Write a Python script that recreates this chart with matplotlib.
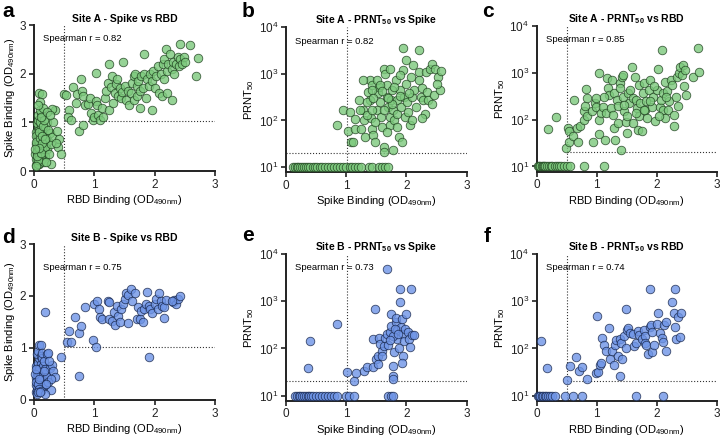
import numpy as np
import matplotlib
matplotlib.use("Agg")
import matplotlib.pyplot as plt
from matplotlib.ticker import FixedLocator, NullLocator

plt.rcParams['font.family'] = ['Liberation Sans', 'DejaVu Sans']
plt.rcParams['mathtext.fontset'] = 'custom'
plt.rcParams['mathtext.rm'] = 'Liberation Sans'
plt.rcParams['mathtext.it'] = 'Liberation Sans:italic'
plt.rcParams['mathtext.bf'] = 'Liberation Sans:bold'
plt.rcParams['mathtext.default'] = 'regular'

# ---- data (x, y) ----
# Site A: spike OD vs RBD OD
site_a_rbd_spike = np.array([
    (0.03, 0.12), (0.05, 0.18), (0.04, 0.25), (0.06, 0.30), (0.08, 0.15), (0.02, 0.35), (0.07, 0.42),
    (0.10, 0.20), (0.05, 0.50), (0.09, 0.28), (0.12, 0.38), (0.04, 0.55), (0.06, 0.62), (0.11, 0.45),
    (0.08, 0.70), (0.03, 0.80), (0.13, 0.25), (0.15, 0.32), (0.07, 0.90), (0.10, 0.58), (0.05, 0.98),
    (0.09, 0.75), (0.14, 0.48), (0.06, 1.05), (0.12, 0.66), (0.08, 0.85), (0.16, 0.40), (0.04, 0.72),
    (0.11, 0.95), (0.18, 0.30), (0.07, 1.15), (0.13, 0.82), (0.20, 0.52), (0.10, 1.00), (0.05, 0.40),
    (0.15, 0.60), (0.09, 0.33), (0.17, 0.75), (0.12, 0.22), (0.22, 0.45), (0.06, 0.15), (0.14, 1.10),
    (0.08, 0.55), (0.19, 0.88), (0.11, 0.30), (0.24, 0.62), (0.03, 0.60), (0.16, 0.18), (0.10, 0.68),
    (0.13, 0.45), (0.21, 1.00), (0.07, 0.22), (0.18, 0.50), (0.26, 0.78), (0.12, 1.20), (0.09, 0.80),
    (0.15, 0.92), (0.28, 0.55), (0.05, 0.30), (0.20, 0.68), (0.11, 0.38), (0.23, 0.85), (0.14, 0.58),
    (0.30, 0.70), (0.08, 0.48), (0.17, 1.05), (0.25, 0.35), (0.10, 1.25), (0.32, 1.00), (0.13, 0.72),
    (0.35, 1.25), (0.38, 0.82), (0.30, 1.28), (0.42, 0.65), (0.40, 0.50), (0.36, 0.58), (0.28, 0.15),
    (0.44, 0.35), (0.08, 1.60), (0.13, 1.58), (0.10, 1.42), (0.15, 1.30), (0.06, 1.35), (0.12, 1.10),
    (0.20, 0.18), (0.22, 1.22), (0.04, 0.10), (0.02, 0.45), (0.18, 0.65), (0.27, 1.15),
    (0.50, 1.58), (0.53, 1.57), (0.58, 1.26), (0.57, 1.10), (0.62, 1.05), (0.65, 1.72), (0.72, 1.58),
    (0.70, 1.40), (0.78, 1.90), (0.80, 1.65), (0.82, 1.55), (0.85, 1.35), (0.90, 1.38), (0.92, 1.50),
    (0.75, 0.83), (0.82, 0.95), (0.95, 1.20), (0.98, 1.05), (1.00, 1.10), (1.02, 1.43), (1.03, 2.02),
    (1.05, 1.35), (1.06, 1.15), (1.10, 1.05), (1.12, 1.30), (1.15, 1.10), (1.18, 1.50), (1.20, 1.65),
    (1.22, 1.80), (1.25, 1.25), (1.25, 2.20), (1.28, 1.72), (1.30, 1.95), (1.31, 1.40), (1.35, 1.60),
    (1.36, 1.78), (1.38, 1.90), (1.40, 1.55), (1.42, 1.70), (1.45, 1.50), (1.46, 1.62), (1.48, 2.25),
    (1.50, 1.75), (1.52, 1.45), (1.55, 1.65), (1.58, 1.35), (1.60, 1.60), (1.62, 1.80), (1.65, 1.45),
    (1.65, 1.95), (1.68, 2.00), (1.70, 1.75), (1.71, 1.55), (1.72, 1.85), (1.75, 1.30), (1.76, 1.65),
    (1.78, 1.95), (1.80, 1.70), (1.82, 2.00), (1.83, 2.40), (1.85, 1.50), (1.88, 1.90), (1.90, 1.75),
    (1.92, 2.00), (1.95, 1.25), (1.96, 1.85), (1.98, 2.05), (2.00, 1.70), (2.02, 1.95), (2.05, 2.15),
    (2.08, 1.60), (2.10, 2.00), (2.12, 1.55), (2.13, 2.20), (2.15, 2.30), (2.16, 1.90), (2.18, 2.50),
    (2.20, 2.05), (2.21, 1.60), (2.22, 2.20), (2.25, 2.40), (2.28, 1.45), (2.29, 2.10), (2.30, 2.25),
    (2.32, 2.00), (2.35, 2.20), (2.38, 2.35), (2.40, 2.15), (2.42, 2.30), (2.42, 2.60), (2.45, 2.20),
    (2.48, 2.35), (2.50, 2.25), (2.58, 2.58), (2.68, 1.95), (2.72, 2.32),
])

# Site A: PRNT50 vs spike OD
site_a_spike_prnt = np.array([
    (0.12, 10), (0.15, 10), (0.18, 10), (0.20, 10), (0.23, 10), (0.26, 10), (0.30, 10), (0.33, 10),
    (0.37, 10), (0.40, 10), (0.44, 10), (0.48, 10), (0.52, 10), (0.56, 10), (0.60, 10), (0.65, 10),
    (0.70, 10), (0.74, 10), (0.80, 10), (0.85, 10), (0.90, 10), (0.95, 10), (1.00, 10), (1.06, 10),
    (1.10, 10), (1.15, 10), (1.20, 10), (1.25, 10), (1.38, 10), (1.42, 10), (1.55, 10), (1.60, 10),
    (1.65, 10), (1.70, 10),
    (0.84, 79), (0.94, 166), (1.03, 60), (1.08, 35), (1.11, 35), (1.06, 150), (1.15, 105), (1.15, 67),
    (1.22, 275), (1.24, 67), (1.28, 165), (1.29, 100), (1.31, 44), (1.36, 415), (1.39, 740), (1.42, 570),
    (1.39, 275), (1.41, 110), (1.43, 67), (1.45, 48), (1.48, 35), (1.51, 165), (1.52, 380), (1.55, 530),
    (1.56, 250), (1.58, 120), (1.59, 72), (1.62, 27), (1.63, 21), (1.63, 1300), (1.64, 1000), (1.67, 570),
    (1.68, 320), (1.70, 195), (1.72, 120), (1.73, 79), (1.74, 275), (1.76, 450), (1.77, 23), (1.78, 165),
    (1.79, 100), (1.82, 740), (1.84, 275), (1.85, 140), (1.87, 44), (1.89, 450), (1.91, 195), (1.93, 35),
    (1.95, 3600), (1.95, 1200), (1.96, 320), (1.98, 120), (2.00, 620), (2.01, 250), (2.03, 155), (2.06, 79),
    (2.07, 870), (2.09, 320), (2.10, 100), (2.13, 450), (2.15, 195), (2.20, 3200), (2.20, 1100), (2.21, 740),
    (2.24, 320), (2.25, 490), (2.28, 275), (2.30, 140), (2.32, 1100), (2.34, 410), (2.36, 275), (2.39, 1300),
    (2.43, 1600), (2.46, 350), (2.47, 1300), (2.53, 870), (2.56, 460), (2.58, 1150), (2.50, 620), (2.42, 230),
    (2.25, 110), (1.84, 72), (1.67, 57), (1.34, 130), (1.23, 165), (1.28, 740), (1.51, 740), (1.76, 230),
    (1.56, 570), (1.42, 450), (2.00, 1950), (2.11, 1550), (1.89, 940), (1.62, 165), (1.48, 93), (1.42, 165),
    (1.70, 300), (1.80, 520), (1.90, 330), (2.05, 380), (1.60, 420), (1.35, 250), (1.45, 300), (1.72, 1250),
])

# Site A: PRNT50 vs RBD OD
site_a_rbd_prnt = np.array([
    (0.02, 10), (0.04, 10), (0.06, 10), (0.08, 10), (0.10, 10), (0.12, 10), (0.14, 10), (0.17, 10),
    (0.20, 10), (0.23, 10), (0.26, 10), (0.30, 10), (0.33, 10), (0.37, 10), (0.40, 10), (0.45, 10),
    (0.50, 10), (0.55, 10), (0.78, 10), (1.12, 10),
    (0.19, 63), (0.32, 112), (0.49, 25), (0.53, 33), (0.52, 66), (0.54, 58), (0.61, 45), (0.67, 66),
    (0.72, 74), (0.62, 264), (0.68, 34), (0.78, 100), (0.79, 150), (0.82, 445), (0.81, 195), (0.84, 117),
    (0.83, 285), (0.92, 150), (0.93, 34), (0.97, 225), (0.98, 285), (0.99, 190), (1.03, 100), (1.04, 49),
    (1.03, 980), (1.07, 137), (1.11, 185), (1.14, 37), (1.16, 137), (1.19, 470), (1.21, 335), (1.23, 175),
    (1.27, 127), (1.29, 66), (1.28, 365), (1.30, 37), (1.33, 265), (1.36, 84), (1.38, 620), (1.39, 470),
    (1.40, 22), (1.42, 830), (1.43, 920), (1.44, 310), (1.46, 150), (1.48, 91), (1.50, 117), (1.51, 51),
    (1.52, 365), (1.54, 225), (1.58, 1360), (1.60, 285), (1.61, 84), (1.64, 830), (1.66, 265), (1.67, 175),
    (1.68, 60), (1.70, 555), (1.71, 117), (1.72, 230), (1.75, 56), (1.77, 365), (1.78, 600), (1.81, 160),
    (1.82, 245), (1.84, 107), (1.87, 430), (1.89, 700), (1.92, 190), (1.93, 310), (1.97, 95), (2.00, 430),
    (2.02, 1190), (2.06, 190), (2.07, 265), (2.09, 3050), (2.10, 365), (2.11, 160), (2.14, 107), (2.14, 650),
    (2.17, 400), (2.19, 160), (2.21, 245), (2.23, 700), (2.25, 555), (2.28, 74), (2.29, 127), (2.32, 310),
    (2.33, 830), (2.37, 1000), (2.39, 1360), (2.42, 920), (2.43, 1460), (2.47, 1150), (2.49, 335), (2.61, 830),
    (2.68, 3350), (2.71, 1060), (1.17, 770), (1.25, 700), (2.03, 117), (1.78, 160), (1.55, 420), (1.35, 200),
    (1.95, 520), (2.15, 300), (1.65, 140), (1.88, 250), (2.35, 200), (2.45, 520), (1.12, 300), (1.45, 210),
])

# Site B: spike OD vs RBD OD
site_b_rbd_spike = np.array([
    (0.03, 0.15), (0.05, 0.20), (0.04, 0.28), (0.06, 0.35), (0.08, 0.18), (0.03, 0.42), (0.07, 0.50),
    (0.10, 0.25), (0.05, 0.58), (0.09, 0.32), (0.12, 0.40), (0.04, 0.65), (0.06, 0.72), (0.11, 0.55),
    (0.08, 0.80), (0.05, 0.88), (0.13, 0.22), (0.15, 0.30), (0.07, 0.95), (0.10, 0.62), (0.09, 1.05),
    (0.12, 1.05), (0.14, 0.48), (0.06, 0.45), (0.12, 0.70), (0.08, 0.60), (0.16, 0.38), (0.04, 0.35),
    (0.11, 0.85), (0.18, 0.28), (0.07, 0.30), (0.13, 0.80), (0.20, 0.52), (0.10, 0.45), (0.05, 0.12),
    (0.15, 0.65), (0.09, 0.22), (0.17, 0.75), (0.12, 0.18), (0.22, 0.45), (0.06, 0.15), (0.14, 0.90),
    (0.19, 0.60), (0.21, 0.88), (0.23, 0.90), (0.24, 0.35), (0.26, 0.62), (0.28, 0.20), (0.30, 0.68),
    (0.32, 0.55), (0.34, 0.45), (0.29, 0.40), (0.25, 0.75), (0.18, 0.12), (0.10, 0.15), (0.16, 0.55),
    (0.20, 0.30), (0.02, 0.50), (0.03, 0.60), (0.08, 0.40), (0.18, 1.70),
    (0.45, 0.82), (0.75, 0.47), (0.55, 1.12), (0.58, 1.32), (0.62, 1.12), (0.68, 1.60), (0.75, 1.28),
    (0.78, 1.42), (0.85, 1.78), (0.98, 1.15), (1.02, 1.02), (1.00, 1.85), (1.05, 1.90), (1.08, 1.75),
    (1.10, 1.60), (1.12, 1.55), (1.22, 1.90), (1.25, 1.55), (1.30, 1.52), (1.32, 1.70), (1.35, 1.45),
    (1.38, 1.80), (1.40, 1.62), (1.42, 1.50), (1.45, 1.75), (1.48, 1.85), (1.50, 1.95), (1.52, 2.05),
    (1.55, 2.02), (1.55, 1.48), (1.60, 2.13), (1.62, 1.90), (1.68, 2.05), (1.70, 1.55), (1.72, 1.78),
    (1.75, 1.55), (1.78, 1.72), (1.80, 1.50), (1.82, 1.75), (1.85, 1.85), (1.88, 2.08), (1.90, 0.82),
    (1.90, 1.80), (1.92, 1.75), (1.95, 1.68), (2.00, 1.85), (2.02, 1.95), (2.05, 1.75), (2.08, 2.05),
    (2.10, 1.90), (2.12, 1.80), (2.15, 1.58), (2.15, 1.78), (2.18, 1.92), (2.30, 1.88), (2.32, 1.92),
    (2.35, 1.85), (2.38, 1.95), (2.42, 2.00), (2.28, 1.90), (1.25, 1.88),
])

# Site B: PRNT50 vs spike OD
site_b_spike_prnt = np.array([
    (0.15, 10), (0.18, 10), (0.21, 10), (0.24, 10), (0.27, 10), (0.30, 10), (0.33, 10), (0.36, 10),
    (0.38, 10), (0.42, 10), (0.45, 10), (0.50, 10), (0.55, 10), (0.60, 10), (0.65, 10), (0.70, 10),
    (0.75, 10), (0.80, 10), (0.85, 10), (1.00, 10), (1.04, 10), (1.13, 10), (1.70, 10), (1.75, 10),
    (1.78, 10),
    (0.40, 146), (0.36, 38), (0.84, 323), (1.02, 31), (1.13, 20), (1.16, 30), (1.29, 34), (1.34, 41),
    (1.44, 41), (1.48, 680), (1.45, 155), (1.49, 60), (1.52, 70), (1.53, 47), (1.55, 165), (1.56, 125),
    (1.59, 90), (1.60, 68), (1.63, 115), (1.65, 170), (1.67, 200), (1.68, 4800), (1.70, 120), (1.72, 220),
    (1.74, 535), (1.75, 300), (1.77, 43), (1.78, 26), (1.78, 23), (1.80, 82), (1.82, 355), (1.83, 450),
    (1.84, 240), (1.85, 160), (1.87, 104), (1.89, 1770), (1.90, 940), (1.91, 280), (1.93, 420), (1.94, 200),
    (1.95, 70), (1.92, 49), (1.96, 145), (1.98, 255), (2.00, 535), (2.02, 220), (2.04, 160), (2.06, 105),
    (2.08, 1770), (2.09, 190), (2.13, 195), (1.77, 185), (1.81, 255), (1.86, 200), (1.73, 150),
])

# Site B: PRNT50 vs RBD OD
site_b_rbd_prnt = np.array([
    (0.02, 10), (0.04, 10), (0.06, 10), (0.08, 10), (0.10, 10), (0.13, 10), (0.16, 10), (0.19, 10),
    (0.22, 10), (0.26, 10), (0.30, 10), (0.47, 10), (0.60, 10), (0.75, 10), (1.65, 10), (2.10, 10),
    (0.07, 145), (0.17, 38), (0.50, 21), (0.55, 42), (0.65, 65), (0.70, 33), (0.75, 40), (0.83, 23),
    (0.98, 30), (1.00, 480), (1.02, 32), (1.05, 45), (1.07, 48), (1.08, 165), (1.12, 120), (1.15, 90),
    (1.20, 270), (1.22, 60), (1.25, 90), (1.28, 45), (1.30, 120), (1.32, 150), (1.35, 70), (1.38, 26),
    (1.38, 160), (1.40, 130), (1.42, 60), (1.45, 180), (1.48, 700), (1.48, 100), (1.50, 240), (1.52, 270),
    (1.55, 210), (1.60, 200), (1.62, 110), (1.65, 130), (1.68, 230), (1.70, 190), (1.75, 160), (1.78, 240),
    (1.80, 180), (1.80, 130), (1.82, 120), (1.85, 75), (1.88, 1800), (1.88, 280), (1.90, 320), (1.92, 85),
    (1.92, 220), (1.95, 120), (2.00, 330), (2.02, 550), (2.05, 210), (2.08, 170), (2.10, 140), (2.12, 310),
    (2.15, 90), (2.15, 370), (2.25, 950), (2.28, 560), (2.30, 1800), (2.30, 280), (2.32, 160), (2.35, 470),
    (2.38, 175), (2.40, 570),
])

titles = ['Site A - Spike vs RBD', 'Site A - PRNT$_{50}$ vs Spike', 'Site A - PRNT$_{50}$ vs RBD',
          'Site B - Spike vs RBD', 'Site B - PRNT$_{50}$ vs Spike', 'Site B - PRNT$_{50}$ vs RBD']
spearman = [0.82, 0.82, 0.85, 0.75, 0.73, 0.74]
letters = ['a', 'b', 'c', 'd', 'e', 'f']
rbd_label = 'RBD Binding (OD$_{490nm}$)'
spike_label = 'Spike Binding (OD$_{490nm}$)'
spike_ylabel = 'Spike Binding (OD$_{490nm}$)'
prnt_label = 'PRNT$_{50}$'
spike_cut, rbd_cut, prnt_cut = 1.02, 0.5, 20

green_face, green_edge = '#7cc97c', '#1e3f1e'
blue_face, blue_edge = '#6e94e6', '#16254a'

W, H = 720, 438
fig = plt.figure(figsize=(7.2, 4.38), dpi=100)


def px_axes(l, r, t, b):
    return fig.add_axes([l / W, 1 - b / H, (r - l) / W, (b - t) / H])


axes = [
    px_axes(34, 215, 25, 171),
    px_axes(286, 466.7, 27.3, 172),
    px_axes(536.7, 716.7, 26, 171.5),
    px_axes(34, 215, 244, 400),
    px_axes(286, 466.7, 254, 400.7),
    px_axes(536.7, 716.7, 254, 400.7),
]
datasets = [site_a_rbd_spike, site_a_spike_prnt, site_a_rbd_prnt,
            site_b_rbd_spike, site_b_spike_prnt, site_b_rbd_prnt]
kinds = ['od', 'prnt_spike', 'prnt_rbd', 'od', 'prnt_spike', 'prnt_rbd']
text_y = [0.91, 0.90, 0.905, 0.85, 0.905, 0.905]
letter_pos = [(2, 2), (242, 2), (482, 2), (2, 228), (242, 226), (484, 227)]

for i, ax in enumerate(axes):
    data = datasets[i]
    face, edge = (green_face, green_edge) if i < 3 else (blue_face, blue_edge)
    kind = kinds[i]
    ax.set_xlim(0, 3)
    if kind == 'od':
        ax.set_ylim(0, 3)
        ax.set_yticks([0, 1, 2, 3])
        ax.plot([rbd_cut, rbd_cut], [0, 3], ls=':', lw=0.8, color='#333333', zorder=1)
        ax.plot([rbd_cut, 3], [spike_cut, spike_cut], ls=':', lw=0.8, color='#333333', zorder=1)
        ax.set_xlabel(rbd_label, fontsize=8, labelpad=2)
        ax.set_ylabel(spike_ylabel, fontsize=8, labelpad=2)
    else:
        ax.set_yscale('log')
        ax.set_ylim(7.8, 1e4)
        ax.yaxis.set_major_locator(FixedLocator([10, 100, 1000, 10000]))
        ax.yaxis.set_minor_locator(NullLocator())
        ax.set_yticklabels(['10$^{1}$', '10$^{2}$', '10$^{3}$', '10$^{4}$'])
        vx = spike_cut if kind == 'prnt_spike' else rbd_cut
        hx0 = 0 if kind == 'prnt_spike' else rbd_cut
        ax.plot([vx, vx], [7.8, 1e4], ls=':', lw=0.8, color='#333333', zorder=1)
        ax.plot([hx0, 3], [prnt_cut, prnt_cut], ls=':', lw=0.8, color='#333333', zorder=1)
        ax.set_xlabel(spike_label if kind == 'prnt_spike' else rbd_label, fontsize=8, labelpad=2)
        ax.set_ylabel(prnt_label, fontsize=8, labelpad=2)
    ax.set_xticks([0, 1, 2, 3])
    ax.scatter(data[:, 0], data[:, 1], s=38, facecolor=face, edgecolor=edge,
               linewidth=0.6, alpha=0.8, zorder=3, clip_on=False)
    for side in ['top', 'right']:
        ax.spines[side].set_visible(False)
    for side in ['left', 'bottom']:
        ax.spines[side].set_linewidth(1.4)
        ax.spines[side].set_color('#222222')
    ax.tick_params(direction='out', length=3.5, width=1.2, labelsize=8.5, pad=2, colors='#222222')
    ax.set_title(titles[i], fontsize=7.5, fontweight='bold', pad=2)
    ax.text(0.05, text_y[i], f'Spearman r = {spearman[i]:.2f}', transform=ax.transAxes,
            fontsize=6.8, va='center', ha='left')
    lx, ly = letter_pos[i]
    fig.text(lx / W, 1 - ly / H, letters[i], fontsize=15, fontweight='bold', va='top', ha='left')

fig.savefig('out.png', dpi=100)
